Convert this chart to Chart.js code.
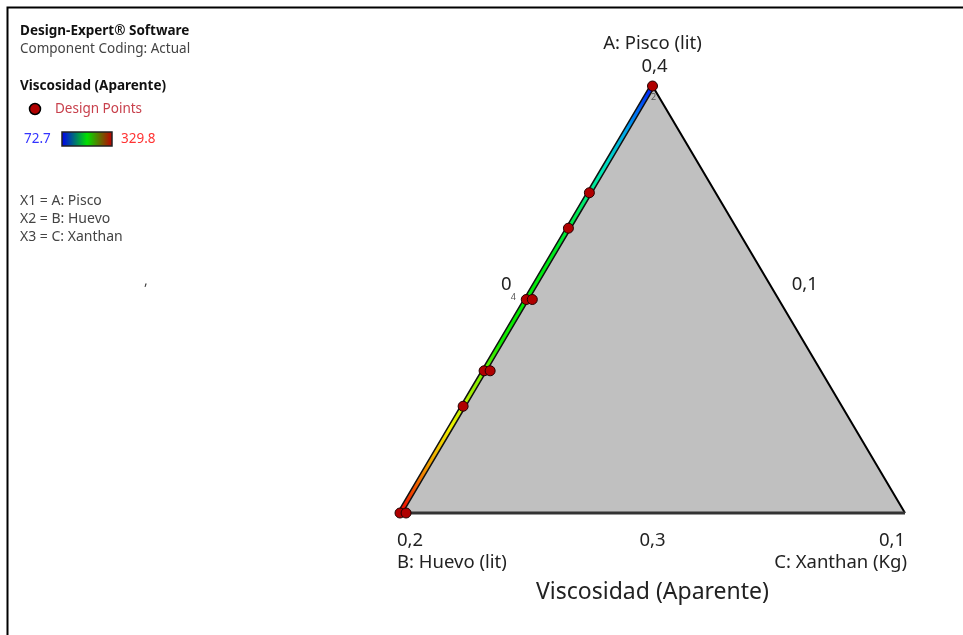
<!DOCTYPE html>
<html>
<head>
<meta charset="utf-8">
<script src="https://cdn.jsdelivr.net/npm/chart.js@4.4.0/dist/chart.umd.min.js"></script>
<style>
  html, body { margin: 0; padding: 0; background: #fff; }
  #wrap { width: 963px; height: 635px; }
</style>
</head>
<body>
<div id="wrap"><canvas id="chart" width="963" height="635"></canvas></div>
<script>
// pseudo-component shares along the B-A edge (Xanthan = 0), 0 = Huevo vertex, 1 = Pisco vertex
const edgePisco = [0, 0.1, 0.2, 0.3, 0.4, 0.5, 0.6, 0.7, 0.8, 0.9, 1];
const edgeViscosity = [329.8, 291, 265, 240, 206, 201, 194, 178, 150, 118, 80];
const viscRange = [72.7, 329.8];

// design points (pseudo shares of Pisco and Xanthan)
const designPisco = [1, 0.75, 0.667, 0.5, 0.5, 0.333, 0.333, 0.25, 0, 0];
const designXanthan = [0, 0, 0, 0, 0.012, 0, 0.012, 0, 0, 0.012];
const replicatePisco = [1, 0.5];
const replicateText = ['2', '4'];

const vertexNames = ['A: Pisco (lit)', 'B: Huevo (lit)', 'C: Xanthan (Kg)'];
const vertexTicks = ['0,4', '0,2', '0,1'];
const edgeTicks = ['0', '0,3', '0,1']; // A-B edge, B-C edge, C-A edge
const factorNames = ['X1 = A: Pisco', 'X2 = B: Huevo', 'X3 = C: Xanthan'];
const responseName = 'Viscosidad (Aparente)';

function toXY(a, c) {
    return { x: c + a / 2, y: a };
}

function heatColor(v) {
    const stops = [[0, 0, 0, 255], [0.25, 0, 230, 230], [0.5, 0, 235, 0], [0.75, 240, 240, 0], [1, 240, 0, 0]];
    let n = (v - viscRange[0]) / (viscRange[1] - viscRange[0]);
    n = Math.max(0, Math.min(1, n));
    for (let i = 1; i < stops.length; i++) {
        if (n <= stops[i][0]) {
            const s0 = stops[i - 1], s1 = stops[i];
            const f = (n - s0[0]) / (s1[0] - s0[0]);
            const c = [1, 2, 3].map(k => Math.round(s0[k] + (s1[k] - s0[k]) * f));
            return 'rgb(' + c.join(',') + ')';
        }
    }
    return 'rgb(240,0,0)';
}

const triangle = [toXY(0, 0), toXY(1, 0), toXY(0, 1), toXY(0, 0)];
const edgeLine = edgePisco.map(a => toXY(a, 0));
const designData = designPisco.map((a, i) => toXY(a, designXanthan[i]));

function edgeGradient(ctx) {
    const chart = ctx.chart;
    const xs = chart.scales.x, ys = chart.scales.y;
    if (!chart.chartArea || !xs || !ys) return '#0c0';
    const p0 = toXY(0, 0), p1 = toXY(1, 0);
    const c = [xs.getPixelForValue(p0.x), ys.getPixelForValue(p0.y),
               xs.getPixelForValue(p1.x), ys.getPixelForValue(p1.y)];
    if (!c.every(Number.isFinite)) return '#0c0';
    const g = chart.ctx.createLinearGradient(c[0], c[1], c[2], c[3]);
    edgePisco.forEach((t, i) => g.addColorStop(t, heatColor(edgeViscosity[i])));
    return g;
}

const textPlugin = {
    id: 'ternaryText',
    afterDraw(chart) {
        const ctx = chart.ctx;
        const xs = chart.scales.x, ys = chart.scales.y;
        const px = (a, c) => {
            const p = toXY(a, c);
            return [xs.getPixelForValue(p.x), ys.getPixelForValue(p.y)];
        };
        ctx.save();

        // frame
        ctx.strokeStyle = '#000';
        ctx.lineWidth = 2;
        ctx.beginPath();
        ctx.moveTo(7.5, 640);
        ctx.lineTo(7.5, 7.5);
        ctx.lineTo(970, 7.5);
        ctx.stroke();

        // left info block
        ctx.textBaseline = 'middle';
        ctx.textAlign = 'left';
        ctx.fillStyle = '#111';
        ctx.font = 'bold 13.5px "Noto Sans"';
        ctx.fillText('Design-Expert\u00AE Software', 20, 31);
        ctx.fillStyle = '#444';
        ctx.font = '13.5px "Noto Sans"';
        ctx.fillText('Component Coding: Actual', 20, 49);
        ctx.fillStyle = '#111';
        ctx.font = 'bold 13.5px "Noto Sans"';
        ctx.fillText(responseName, 20, 86);

        ctx.beginPath();
        ctx.arc(35, 109, 5.5, 0, Math.PI * 2);
        ctx.fillStyle = '#b00000';
        ctx.fill();
        ctx.lineWidth = 1.5;
        ctx.strokeStyle = '#000';
        ctx.stroke();
        ctx.fillStyle = '#c8404c';
        ctx.font = '13.5px "Noto Sans"';
        ctx.fillText('Design Points', 55, 109);

        ctx.fillStyle = '#3333ff';
        ctx.fillText(String(viscRange[0]), 24, 139);
        const bar = ctx.createLinearGradient(62, 0, 112, 0);
        bar.addColorStop(0, '#0000ee');
        bar.addColorStop(0.5, '#00e000');
        bar.addColorStop(1, '#c00000');
        ctx.fillStyle = bar;
        ctx.fillRect(62, 132, 50, 14);
        ctx.strokeStyle = '#222';
        ctx.lineWidth = 1.5;
        ctx.strokeRect(62, 132, 50, 14);
        ctx.fillStyle = '#ff3333';
        ctx.fillText(String(viscRange[1]), 121, 139);

        ctx.fillStyle = '#444';
        ctx.font = '14px "Noto Sans"';
        factorNames.forEach((t, i) => ctx.fillText(t, 20, 201 + i * 18));
        ctx.fillText(',', 144, 281);

        // ternary labels
        const A = px(1, 0), B = px(0, 0), C = px(0, 1);
        ctx.fillStyle = '#222';
        ctx.font = '18.5px "Noto Sans"';
        ctx.textAlign = 'center';
        ctx.fillText(vertexNames[0], A[0], A[1] - 42);
        ctx.fillText(vertexTicks[0], A[0] + 2, A[1] - 19);
        ctx.textAlign = 'left';
        ctx.fillText(vertexTicks[1], B[0] - 3, B[1] + 28);
        ctx.fillText(vertexNames[1], B[0] - 3, B[1] + 50);
        ctx.textAlign = 'right';
        ctx.fillText(vertexTicks[2], C[0], C[1] + 28);
        ctx.fillText(vertexNames[2], C[0] + 2, C[1] + 50);

        const mAB = px(0.5, 0), mBC = px(0, 0.5), mCA = px(0.5, 0.5);
        ctx.textAlign = 'center';
        ctx.fillText(edgeTicks[0], mAB[0] - 20, mAB[1] - 15);
        ctx.fillText(edgeTicks[1], mBC[0], mBC[1] + 28);
        ctx.fillText(edgeTicks[2], mCA[0] + 26, mCA[1] - 15);

        ctx.font = '23px "Noto Sans"';
        ctx.fillText(responseName, mBC[0], mBC[1] + 79);

        // replicate counts
        ctx.font = '9px "Noto Sans"';
        ctx.fillStyle = '#555';
        replicatePisco.forEach((a, i) => {
            const p = px(a, 0);
            ctx.fillText(replicateText[i], p[0] - (a < 1 ? 13 : -1), p[1] + (a < 1 ? -2 : 11));
        });
        ctx.restore();
    }
};

new Chart(document.querySelector('#chart'), {
    type: 'scatter',
    data: {
        datasets: [
            {
                label: 'Design Points',
                data: designData,
                pointRadius: 5,
                pointBackgroundColor: '#b00000',
                pointBorderColor: '#220000',
                pointBorderWidth: 1,
                order: 0
            },
            {
                type: 'line',
                label: 'edge',
                data: edgeLine,
                borderColor: edgeGradient,
                borderWidth: 3,
                pointRadius: 0,
                fill: false,
                order: 1
            },
            {
                type: 'line',
                label: 'edge outline',
                data: edgeLine,
                borderColor: '#111',
                borderWidth: 6,
                pointRadius: 0,
                fill: false,
                order: 2
            },
            {
                type: 'line',
                label: 'region',
                data: triangle,
                borderColor: '#000',
                borderWidth: 2,
                backgroundColor: '#c0c0c0',
                pointRadius: 0,
                fill: 'shape',
                segment: {
                    borderColor: ctx => ctx.p0DataIndex === 2 ? '#333' : '#000',
                    borderWidth: ctx => ctx.p0DataIndex === 2 ? 3 : 2
                },
                order: 3
            }
        ]
    },
    options: {
        responsive: false,
        devicePixelRatio: 1,
        animation: false,
        layout: { padding: 0, autoPadding: false },
        scales: {
            x: { type: 'linear', display: false, min: -400 / 505, max: 563 / 505 },
            y: { type: 'linear', display: false, min: -122 / 427, max: 1 + 86 / 427 }
        },
        plugins: {
            legend: { display: false },
            tooltip: { enabled: false }
        }
    },
    plugins: [textPlugin]
});
</script>
</body>
</html>
